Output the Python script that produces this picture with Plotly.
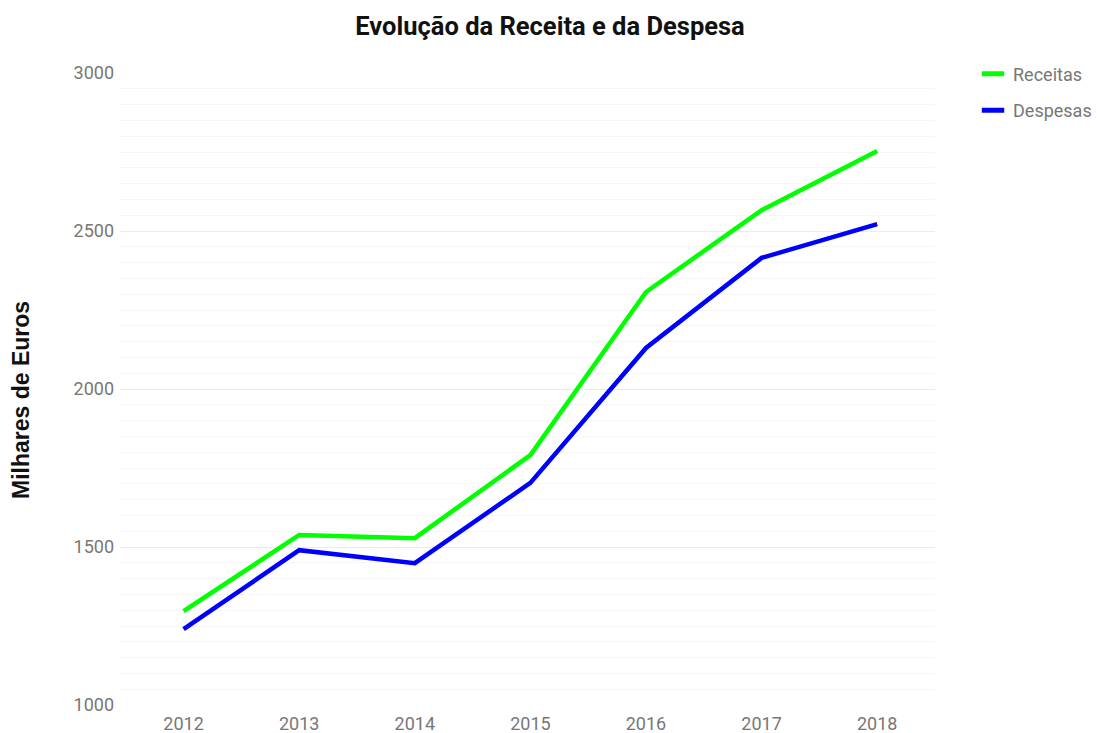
import plotly.graph_objects as go

anos = ["2012", "2013", "2014", "2015", "2016", "2017", "2018"]
receitas = [1297, 1538, 1528, 1791, 2307, 2566, 2753]
despesas = [1240, 1490, 1449, 1703, 2130, 2415, 2522]
y_ticks = [1000, 1500, 2000, 2500, 3000]
series = [("Receitas", receitas, "#00ff00"), ("Despesas", despesas, "#0000ff")]

fig = go.Figure()
for nome, vals, cor in series:
    fig.add_trace(go.Scatter(x=anos, y=vals, mode="lines", name=nome, showlegend=False,
                             legendgroup=nome, line=dict(color=cor, width=4.5)))
# legend entries drawn as short thick bars
for nome, vals, cor in series:
    fig.add_trace(go.Scatter(x=[None], y=[None], mode="markers", name=nome,
                             legendgroup=nome,
                             marker=dict(symbol="line-ew-open", size=16, color=cor,
                                         line=dict(color=cor, width=5))))

fig.update_layout(
    width=1097, height=733,
    paper_bgcolor="white", plot_bgcolor="white",
    margin=dict(l=120, r=162, t=73, b=28, autoexpand=False),
    font=dict(family="Roboto", size=18, color="#777777"),
    title=dict(text="<b>Evolução da Receita e da Despesa</b>", x=0.5014, xref="container",
               xanchor="center", y=0.9645, yref="container", yanchor="middle",
               font=dict(family="Roboto", size=25.5, color="#111111")),
    legend=dict(x=1.1988, y=1.0276, xanchor="right", yanchor="top",
                font=dict(family="Roboto", size=18, color="#777777"),
                tracegroupgap=10, itemclick=False),
    xaxis=dict(type="category", range=[-0.55, 6.5], showgrid=False,
               zeroline=False, showline=False, ticks="", automargin=False,
               ticklabelstandoff=6,
               tickfont=dict(size=18, color="#777777")),
    yaxis=dict(range=[1000, 3000], tickvals=y_ticks, showgrid=True,
               gridcolor="#ececec", gridwidth=1, zeroline=False, showline=False,
               ticks="", ticklabelstandoff=5, automargin=False,
               tickfont=dict(size=18, color="#777777"),
               minor=dict(dtick=50, showgrid=True, gridcolor="#f6f6f6", gridwidth=1)),
    annotations=[dict(text="<b>Milhares de Euros</b>", textangle=-90,
                      xref="paper", yref="paper", x=-0.1215, y=0.4826,
                      xanchor="center", yanchor="middle", showarrow=False,
                      font=dict(family="Liberation Sans", size=23, color="#111111"))],
)

# remove the default 8px page margin so the figure fills the window exactly
fig.write_html("out.html", config={"displayModeBar": False},
               post_script="document.body.style.margin='0';document.body.style.overflow='hidden';")
